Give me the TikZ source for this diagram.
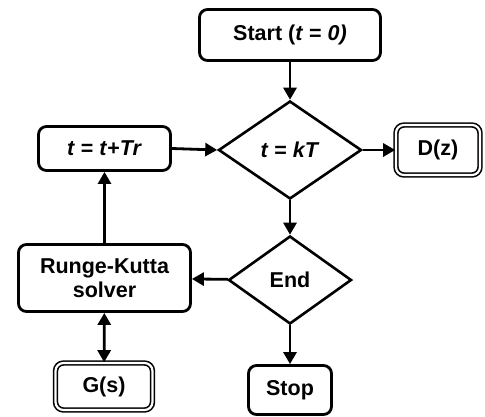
\documentclass[tikz,border=0pt]{standalone}
\usepackage{fontspec}
\setmainfont{Liberation Sans}
\usetikzlibrary{shapes.geometric,arrows.meta}
\begin{document}
\begin{tikzpicture}[x=1pt,y=-1pt,
  every node/.style={font=\fontsize{21.5}{24}\selectfont\bfseries, align=center, inner sep=0pt},
  box/.style={draw, line width=2.8pt, rounded corners=8pt},
  dbox/.style={draw, line width=1.6pt, double, double distance=2.2pt, rounded corners=8pt},
  dia/.style={draw, diamond, line width=2.6pt},
  arr/.style={line width=2.8pt, -{Triangle[length=12pt,width=13pt]}},
  darr/.style={line width=2.8pt, {Triangle[length=12pt,width=13pt]}-{Triangle[length=12pt,width=13pt]}}]
\useasboundingbox (0,0) rectangle (485,416);
\node[box, minimum width=181pt, minimum height=51pt] (start) at (290,35) {Start (\textit{t} = \textit{0)}};
\node[dia, minimum width=143pt, minimum height=98pt] (kt) at (290,150) {\textit{t} = \textit{kT}};
\node[dbox, minimum width=84pt, minimum height=50pt] (dz) at (438,150) {D(z)};
\node[box, minimum width=132pt, minimum height=44pt] (tt) at (104.5,148.5) {\textit{t} = \textit{t}+\textit{Tr}};
\node[dia, minimum width=123pt, minimum height=88pt] (end) at (290,280) {End};
\node[box, minimum width=83pt, minimum height=49pt] (stop) at (290,390) {Stop};
\node[box, minimum width=172pt, minimum height=67pt] (rk) at (104.5,278) {Runge-Kutta\\solver};
\node[dbox, minimum width=97pt, minimum height=47pt] (gs) at (104,386.5) {G(s)};
\draw[arr] (start) -- (kt);
\draw[arr] (kt) -- (dz);
\draw[arr] (tt.east) -- (kt.west);
\draw[arr] (kt) -- (end);
\draw[arr] (end) -- (stop);
\draw[arr] (end) -- (rk);
\draw[arr] (rk) -- (tt);
\draw[darr] (rk) -- (gs);
\end{tikzpicture}
\end{document}
